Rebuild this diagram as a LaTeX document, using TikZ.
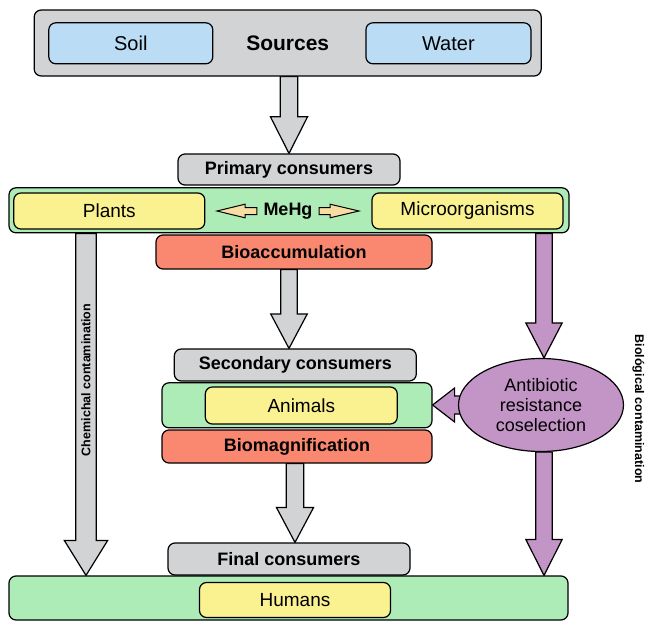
\documentclass[tikz,border=0pt]{standalone}
\usepackage{fontspec}
\setmainfont{Liberation Sans}
\usetikzlibrary{calc,shapes.geometric,backgrounds}
\definecolor{cgray}{HTML}{D1D3D5}
\definecolor{cblue}{HTML}{BADCF4}
\definecolor{cgreen}{HTML}{AEECB7}
\definecolor{cyellow}{HTML}{FAF191}
\definecolor{csalmon}{HTML}{FA8770}
\definecolor{cpurple}{HTML}{C394C6}
\definecolor{ctan}{HTML}{F8DDA3}
\newcommand\blkdown[6]{%
  \draw[#6] let \p1=(#1), \p2=(#2) in
    (\x1-#3,\y1) -- (\x1-#3,\y2+#5) -- (\x1-#4,\y2+#5) -- (\x1,\y2)
    -- (\x1+#4,\y2+#5) -- (\x1+#3,\y2+#5) -- (\x1+#3,\y1) -- cycle;}
\newcommand\blkleft[6]{%
  \draw[#6] let \p1=(#1), \p2=(#2) in
    (\x1,\y1-#3) -- (\x2+#5,\y1-#3) -- (\x2+#5,\y1-#4) -- (\x2,\y1)
    -- (\x2+#5,\y1+#4) -- (\x2+#5,\y1+#3) -- (\x1,\y1+#3) -- cycle;}
\newcommand\blkright[6]{%
  \draw[#6] let \p1=(#1), \p2=(#2) in
    (\x1,\y1-#3) -- (\x2-#5,\y1-#3) -- (\x2-#5,\y1-#4) -- (\x2,\y1)
    -- (\x2-#5,\y1+#4) -- (\x2-#5,\y1+#3) -- (\x1,\y1+#3) -- cycle;}
\tikzset{
  box/.style={draw=black, line width=1.2pt, rounded corners=7pt, inner sep=0pt,
    font=\fontsize{19}{22}\selectfont},
  hdr/.style={box, fill=cgray, font=\fontsize{18}{21}\selectfont\bfseries},
  grn/.style={box, fill=cgreen},
  yel/.style={box, fill=cyellow},
  blu/.style={box, fill=cblue, font=\fontsize{20}{23}\selectfont},
  sal/.style={box, fill=csalmon, font=\fontsize{18}{21}\selectfont\bfseries},
  garrow/.style={draw=black, line width=1.2pt, fill=cgray, line join=miter},
  parrow/.style={draw=black, line width=1.2pt, fill=cpurple, line join=miter},
  tarrow/.style={draw=black, line width=1pt, fill=ctan, line join=miter},
  sidelabel/.style={font=\fontsize{12.5}{14}\selectfont\bfseries, inner sep=0pt},
}
\begin{document}
\begin{tikzpicture}[x=1pt,y=-1pt]
\useasboundingbox (0,0) rectangle (646,621);
% Sources
\node[box, fill=cgray, minimum width=507pt, minimum height=66pt,
  font=\fontsize{21}{24}\selectfont\bfseries] (src) at (287.7,43) {Sources};
\node[blu, minimum width=164pt, minimum height=41pt] (soil) at (130.8,43.3) {Soil};
\node[blu, minimum width=165pt, minimum height=41pt] (water) at (448.4,43.3) {Water};
% Primary
\node[hdr, minimum width=222pt, minimum height=31pt] (prim) at (289,169.5) {Primary consumers};
\node[grn, minimum width=560pt, minimum height=45pt] (g1) at (289,210.3) {};
\node[yel, minimum width=191pt, minimum height=36pt] (plants) at (109.3,211) {Plants};
\node[yel, minimum width=191pt, minimum height=36pt] (micro) at (467.5,211) {Microorganisms};
\node[font=\fontsize{18}{21}\selectfont\bfseries, inner sep=0pt, minimum width=62pt] (mehg) at (288,211) {MeHg};
\coordinate (ml) at (217,211);
\coordinate (mr) at (359,211);
\node[sal, minimum width=276pt, minimum height=34pt] (bioacc) at (294,252) {Bioaccumulation};
% Secondary
\node[hdr, minimum width=242pt, minimum height=32pt] (sec) at (295.3,365) {Secondary consumers};
\node[grn, minimum width=270pt, minimum height=45pt] (g2) at (297,405.3) {};
\node[yel, minimum width=192pt, minimum height=37pt] (animals) at (301.3,405.5) {Animals};
\node[sal, minimum width=270pt, minimum height=33pt] (biomag) at (297,446.5) {Biomagnification};
% Ellipse
\node[ellipse, draw=black, line width=1.2pt, fill=cpurple, minimum width=165pt, minimum height=93pt,
  inner sep=0pt, align=center, font=\fontsize{18}{20}\selectfont] (ell) at (541,405)
  {Antibiotic\\resistance\\coselection};
% Final
\node[hdr, minimum width=242pt, minimum height=32pt] (fin) at (289,559) {Final consumers};
\node[grn, minimum width=559pt, minimum height=44pt] (g3) at (288.5,598) {};
\node[yel, minimum width=191pt, minimum height=35pt] (humans) at (295,600) {Humans};
% helper coordinates
\coordinate (cl) at (86,0);
\coordinate (cr) at (544,0);
\begin{scope}[on background layer]
  \blkdown{prim.north |- src.south}{prim.north}{8.7pt}{18.6pt}{36.7pt}{garrow}
  \blkdown{prim.north |- bioacc.south}{prim.north |- sec.north}{8.3pt}{18.3pt}{34.5pt}{garrow}
  \blkdown{humans.north |- biomag.south}{humans.north |- fin.north}{8.8pt}{18.6pt}{35pt}{garrow}
  \blkdown{cl |- g1.south}{cl |- g3.north}{10.3pt}{21.7pt}{35pt}{garrow}
  \blkdown{cr |- g1.south}{cr |- ell.north}{8.2pt}{18.2pt}{35pt}{parrow}
  \blkdown{cr |- ell.south}{cr |- g3.north}{8.2pt}{18.2pt}{36pt}{parrow}
  \blkleft{ell.center}{g2.east}{9pt}{17pt}{22pt}{parrow}
\end{scope}
\blkleft{mehg.west}{ml}{3.5pt}{6.8pt}{28pt}{tarrow}
\blkright{mehg.east}{mr}{3.5pt}{6.8pt}{29pt}{tarrow}
% side labels
\node[sidelabel, rotate=90] (chem) at (86,380) {Chemichal contamination};
\node[sidelabel, rotate=-90] (biol) at (638.5,409) {Biológical contamination};
\end{tikzpicture}
\end{document}
